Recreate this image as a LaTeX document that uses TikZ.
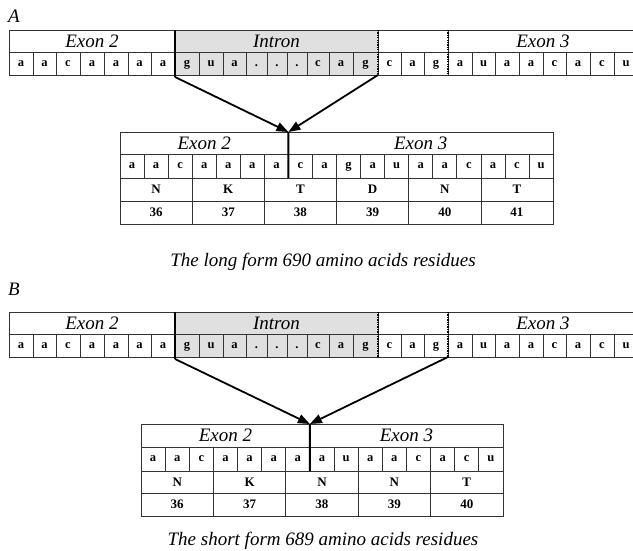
\documentclass[tikz,border=0pt]{standalone}
\usepackage{fontspec}
\setmainfont{Liberation Serif}
\usetikzlibrary{arrows.meta}
\begin{document}
\begin{tikzpicture}[x=1pt,y=-1pt,
  frame/.style={draw=black!80, line width=0.8pt, inner sep=0pt, outer sep=0pt, anchor=north west},
  hdr/.style={frame, font=\fontsize{19}{19}\selectfont\itshape, text height=12.5pt, text depth=0pt},
  cell/.style={frame, font=\fontsize{12.5}{12.5}\selectfont\bfseries, text height=5.8pt, text depth=0pt},
  aa/.style={frame, font=\fontsize{13}{13}\selectfont\bfseries, text height=8.6pt, text depth=0pt},
  splice/.style={line width=1.8pt, -{Triangle[length=12pt,width=9pt]}},
  cut/.style={line width=2pt},
  dotcut/.style={line width=2pt, dash pattern=on 1.3pt off 1.1pt},
  caption/.style={font=\fontsize{19}{19}\selectfont\itshape},
  panel/.style={font=\fontsize{19}{19}\selectfont\itshape}
]
\useasboundingbox (0,0) rectangle (633,551);
\clip (0,0) rectangle (633,551);
\colorlet{introngray}{black!12}

% ---------- genomic strips (A and B) ----------
\foreach \p/\t in {A/30,B/312} {
  \node[hdr, minimum width=166pt, minimum height=22pt] (\p-ex2) at (9,\t) {Exon 2};
  \node[hdr, fill=introngray, minimum width=203pt, minimum height=22pt] (\p-int) at (175,\t) {Intron};
  \node[hdr, minimum width=70pt, minimum height=22pt] (\p-gap) at (378,\t) {};
  \node[hdr, minimum width=190pt, minimum height=22pt] (\p-ex3) at (448,\t) {Exon 3};
  \foreach \l/\r/\c/\f [count=\i] in {
     9/33/a/white, 33/56/a/white, 56/80/c/white, 80/104/a/white, 104/128/a/white, 128/151/a/white, 151/175/a/white,
     175/199/g/introngray, 199/223/u/introngray, 223/246/a/introngray, 246/267/./introngray, 267/287/./introngray,
     287/307/./introngray, 307/329/c/introngray, 329/353/a/introngray, 353/378/g/introngray,
     378/401/c/white, 401/424/a/white, 424/448/g/white,
     448/472/a/white, 472/495/u/white, 495/519/a/white, 519/543/a/white, 543/566/c/white, 566/590/a/white,
     590/614/c/white, 614/638/u/white} {
    \pgfmathsetmacro\w{\r-\l}
    \node[cell, fill=\f, minimum width=\w pt, minimum height=23pt] (\p-c\i) at (\l,\t+22) {\c};
  }
  \coordinate (\p-s1) at (175,\t+47);
  \draw[cut] (\p-int.north west) -- (\p-s1);
  \draw[dotcut] (\p-gap.north west) -- (\p-c16.south east);
  \draw[dotcut] (\p-gap.north east) -- (\p-c19.south east);
}

% ---------- panel A : long form ----------
\node[panel] (labA) at (14,16) {A};
\node[hdr, minimum width=168.4pt, minimum height=22pt] (TA-ex2) at (120,132) {Exon 2};
\node[hdr, minimum width=264.7pt, minimum height=22pt] (TA-ex3) at (288.4,132) {Exon 3};
\foreach \c [count=\i from 0] in {a,a,c,a,a,a,a,c,a,g,a,u,a,a,c,a,c,u}
  \node[cell, minimum width=24.06pt, minimum height=24pt] (TA-c\i) at (120+\i*24.06,154) {\c};
\foreach \a/\n [count=\i from 0] in {N/36,K/37,T/38,D/39,N/40,T/41} {
  \node[aa, minimum width=72.18pt, minimum height=23pt] (TA-a\i) at (120+\i*72.18,178) {\a};
  \node[aa, minimum width=72.18pt, minimum height=23pt] (TA-n\i) at (120+\i*72.18,201) {\n};
}
\draw[cut] (TA-ex2.north east) -- (TA-c6.south east);
\draw[splice] (A-s1) -- (TA-ex2.north east);
\draw[splice] (A-c16.south east) -- (TA-ex2.north east);
\node[caption] (capA) at (323,262) {The long form 690 amino acids residues};

% ---------- panel B : short form ----------
\node[panel] (labB) at (14,289) {B};
\node[hdr, minimum width=168.9pt, minimum height=23pt] (TB-ex2) at (141,424) {Exon 2};
\node[hdr, minimum width=193.0pt, minimum height=23pt] (TB-ex3) at (309.9,424) {Exon 3};
\foreach \c [count=\i from 0] in {a,a,c,a,a,a,a,a,u,a,a,c,a,c,u}
  \node[cell, minimum width=24.13pt, minimum height=24pt] (TB-c\i) at (141+\i*24.13,447) {\c};
\foreach \a/\n [count=\i from 0] in {N/36,K/37,N/38,N/39,T/40} {
  \node[aa, minimum width=72.39pt, minimum height=22pt] (TB-a\i) at (141+\i*72.39,471) {\a};
  \node[aa, minimum width=72.39pt, minimum height=23pt] (TB-n\i) at (141+\i*72.39,493) {\n};
}
\draw[cut] (TB-ex2.north east) -- (TB-c6.south east);
\draw[splice] (B-s1) -- (TB-ex2.north east);
\draw[splice] (B-c19.south east) -- (TB-ex2.north east);
\node[caption] (capB) at (323,541) {The short form 689 amino acids residues};
\end{tikzpicture}
\end{document}
